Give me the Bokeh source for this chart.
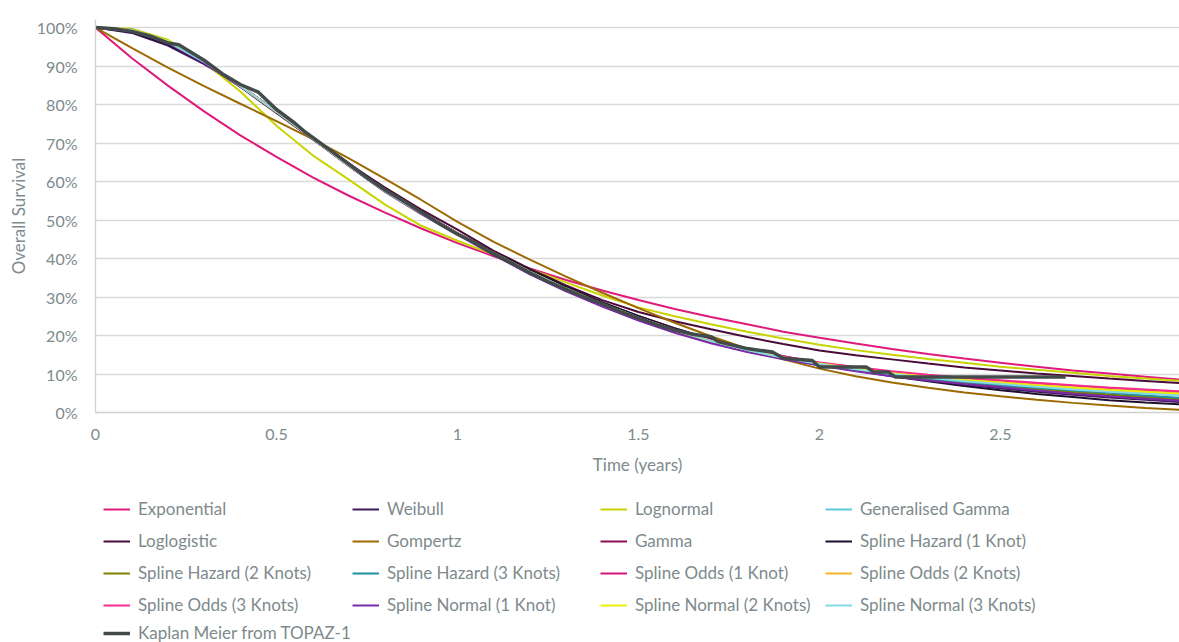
from bokeh.plotting import figure
from bokeh.layouts import column
from bokeh.models import Legend, LegendItem, FixedTicker, NumeralTickFormatter
from bokeh.embed import file_html
from bokeh.resources import INLINE

# ---------------- data ----------------
t = [0.0, 0.1, 0.2, 0.3, 0.4, 0.5, 0.6, 0.7, 0.8, 0.9, 1.0, 1.1, 1.2, 1.3, 1.4, 1.5,
     1.6, 1.7, 1.8, 1.9, 2.0, 2.1, 2.2, 2.3, 2.4, 2.5, 2.6, 2.7, 2.8, 2.9, 3.0]

exponential = [1.000, 0.921, 0.849, 0.782, 0.720, 0.664, 0.611, 0.563, 0.519, 0.478, 0.440,
               0.406, 0.374, 0.344, 0.317, 0.292, 0.269, 0.248, 0.229, 0.210, 0.194,
               0.179, 0.165, 0.152, 0.140, 0.129, 0.119, 0.109, 0.101, 0.093, 0.085]
weibull = [1.000, 0.986, 0.953, 0.905, 0.847, 0.783, 0.715, 0.647, 0.581, 0.522, 0.465,
           0.415, 0.368, 0.325, 0.286, 0.251, 0.219, 0.191, 0.166, 0.146, 0.128,
           0.111, 0.097, 0.084, 0.073, 0.063, 0.054, 0.046, 0.039, 0.033, 0.027]
lognormal = [1.000, 0.997, 0.968, 0.910, 0.834, 0.745, 0.668, 0.605, 0.540, 0.485, 0.446,
             0.410, 0.372, 0.338, 0.304, 0.273, 0.250, 0.229, 0.210, 0.192, 0.176,
             0.162, 0.150, 0.139, 0.129, 0.119, 0.111, 0.103, 0.095, 0.088, 0.082]
gen_gamma = [1.000, 0.995, 0.965, 0.912, 0.848, 0.781, 0.711, 0.641, 0.574, 0.517, 0.465,
             0.414, 0.366, 0.322, 0.282, 0.246, 0.214, 0.186, 0.162, 0.142, 0.126,
             0.113, 0.101, 0.091, 0.082, 0.075, 0.068, 0.061, 0.055, 0.050, 0.045]
loglogistic = [1.000, 0.993, 0.962, 0.910, 0.846, 0.778, 0.710, 0.645, 0.584, 0.527, 0.475,
               0.420, 0.373, 0.330, 0.292, 0.261, 0.237, 0.216, 0.196, 0.178, 0.161,
               0.149, 0.138, 0.127, 0.117, 0.109, 0.101, 0.095, 0.088, 0.082, 0.076]
gompertz = [1.000, 0.947, 0.896, 0.848, 0.802, 0.757, 0.710, 0.660, 0.607, 0.552, 0.495,
            0.443, 0.397, 0.353, 0.311, 0.271, 0.233, 0.198, 0.166, 0.138, 0.114,
            0.094, 0.078, 0.064, 0.052, 0.042, 0.033, 0.025, 0.018, 0.012, 0.007]
gamma = [1.000, 0.994, 0.964, 0.911, 0.848, 0.781, 0.711, 0.641, 0.575, 0.518, 0.466,
         0.416, 0.368, 0.324, 0.284, 0.248, 0.216, 0.188, 0.163, 0.143, 0.125,
         0.110, 0.097, 0.086, 0.076, 0.068, 0.060, 0.052, 0.045, 0.039, 0.033]
sh_1 = [1.000, 0.988, 0.957, 0.908, 0.848, 0.783, 0.714, 0.645, 0.578, 0.520, 0.466,
        0.416, 0.369, 0.326, 0.286, 0.250, 0.218, 0.190, 0.165, 0.144, 0.126,
        0.109, 0.094, 0.081, 0.069, 0.058, 0.048, 0.040, 0.032, 0.026, 0.021]
sh_2 = [1.000, 0.992, 0.962, 0.910, 0.848, 0.782, 0.712, 0.642, 0.575, 0.518, 0.465,
        0.414, 0.366, 0.322, 0.282, 0.246, 0.214, 0.186, 0.162, 0.142, 0.125,
        0.110, 0.098, 0.087, 0.077, 0.069, 0.061, 0.054, 0.047, 0.041, 0.035]
sh_3 = [1.000, 0.991, 0.961, 0.910, 0.849, 0.782, 0.712, 0.642, 0.575, 0.518, 0.465,
        0.414, 0.365, 0.321, 0.281, 0.245, 0.213, 0.185, 0.161, 0.141, 0.125,
        0.111, 0.099, 0.088, 0.079, 0.071, 0.064, 0.057, 0.051, 0.044, 0.038]
so_1 = [1.000, 0.993, 0.963, 0.911, 0.848, 0.781, 0.711, 0.641, 0.575, 0.518, 0.465,
        0.413, 0.364, 0.320, 0.280, 0.245, 0.214, 0.187, 0.164, 0.145, 0.129,
        0.116, 0.105, 0.096, 0.088, 0.082, 0.075, 0.069, 0.063, 0.058, 0.053]
so_2 = [1.000, 0.992, 0.962, 0.910, 0.848, 0.782, 0.712, 0.642, 0.575, 0.518, 0.465,
        0.413, 0.364, 0.320, 0.280, 0.245, 0.213, 0.186, 0.163, 0.144, 0.128,
        0.115, 0.103, 0.094, 0.086, 0.079, 0.072, 0.066, 0.060, 0.055, 0.050]
so_3 = [1.000, 0.993, 0.963, 0.911, 0.849, 0.782, 0.712, 0.642, 0.575, 0.518, 0.465,
        0.413, 0.365, 0.321, 0.281, 0.246, 0.215, 0.188, 0.165, 0.146, 0.130,
        0.118, 0.107, 0.098, 0.090, 0.084, 0.077, 0.071, 0.065, 0.060, 0.055]
sn_1 = [1.000, 0.991, 0.960, 0.908, 0.846, 0.780, 0.710, 0.640, 0.573, 0.515, 0.462,
        0.409, 0.359, 0.315, 0.275, 0.239, 0.207, 0.180, 0.157, 0.138, 0.122,
        0.107, 0.094, 0.083, 0.074, 0.066, 0.057, 0.049, 0.042, 0.036, 0.030]
sn_2 = [1.000, 0.994, 0.965, 0.912, 0.848, 0.781, 0.711, 0.641, 0.575, 0.518, 0.465,
        0.414, 0.366, 0.322, 0.282, 0.246, 0.214, 0.186, 0.163, 0.143, 0.127,
        0.114, 0.102, 0.092, 0.084, 0.077, 0.070, 0.064, 0.058, 0.053, 0.048]
sn_3 = [1.000, 0.993, 0.963, 0.911, 0.848, 0.782, 0.712, 0.642, 0.575, 0.518, 0.465,
        0.414, 0.366, 0.322, 0.282, 0.246, 0.214, 0.186, 0.162, 0.142, 0.126,
        0.112, 0.100, 0.090, 0.081, 0.074, 0.067, 0.060, 0.054, 0.049, 0.044]

km_t = [0.0, 0.05, 0.1, 0.15, 0.2, 0.23, 0.3, 0.35, 0.4, 0.45, 0.5, 0.55, 0.58, 0.65,
        0.7, 0.75, 0.8, 0.85, 0.9, 0.95, 1.0, 1.05, 1.1, 1.15, 1.2, 1.25, 1.3, 1.35,
        1.4, 1.45, 1.5, 1.55, 1.6, 1.65, 1.7, 1.72, 1.8, 1.87, 1.9, 1.98, 2.0, 2.13,
        2.15, 2.19, 2.21, 2.68]
km_s = [1.0, 0.997, 0.99, 0.978, 0.96, 0.955, 0.915, 0.88, 0.852, 0.832, 0.787, 0.752,
        0.728, 0.68, 0.645, 0.61, 0.578, 0.55, 0.52, 0.49, 0.463, 0.44, 0.412, 0.388,
        0.363, 0.34, 0.32, 0.3, 0.282, 0.262, 0.245, 0.228, 0.214, 0.203, 0.197, 0.184,
        0.166, 0.157, 0.141, 0.135, 0.118, 0.118, 0.105, 0.105, 0.092, 0.092]

series_names = ["Exponential", "Weibull", "Lognormal", "Generalised Gamma",
                "Loglogistic", "Gompertz", "Gamma", "Spline Hazard (1 Knot)",
                "Spline Hazard (2 Knots)", "Spline Hazard (3 Knots)", "Spline Odds (1 Knot)",
                "Spline Odds (2 Knots)", "Spline Odds (3 Knots)", "Spline Normal (1 Knot)",
                "Spline Normal (2 Knots)", "Spline Normal (3 Knots)"]
series_values = [exponential, weibull, lognormal, gen_gamma, loglogistic, gompertz, gamma,
                 sh_1, sh_2, sh_3, so_1, so_2, so_3, sn_1, sn_2, sn_3]
series_colors = ["#DF1A7B", "#3F1A5A", "#C8D400", "#5BC8DA", "#4A0B3A", "#9C6A00",
                 "#8B1050", "#1F0D2E", "#808000", "#1F8FA3", "#D4137F", "#F7B52C",
                 "#F62D8C", "#7A2BA8", "#E8F00A", "#86D9E4"]
km_name = "Kaplan Meier from TOPAZ-1"
km_color = "#424A4A"

x_ticks = [0, 0.5, 1, 1.5, 2, 2.5]
x_tick_labels = ["0", "0.5", "1", "1.5", "2", "2.5"]
y_ticks = [0, 0.1, 0.2, 0.3, 0.4, 0.5, 0.6, 0.7, 0.8, 0.9, 1.0]

# ---------------- main figure ----------------
FONT = "Lato"
TXT = "#7E8A8C"
W = 1179

p = figure(width=W, height=480, output_backend="svg", toolbar_location=None,
           x_range=(0, 2.9945), y_range=(0, 1.0208),
           min_border_left=95, min_border_right=0, min_border_top=19,
           min_border_bottom=68)
p.outline_line_color = None
p.background_fill_color = "white"
p.border_fill_color = "white"

p.xgrid.visible = False
p.ygrid.grid_line_color = "#D9D9D9"
p.ygrid.grid_line_width = 1.3

p.yaxis.ticker = FixedTicker(ticks=y_ticks)
p.yaxis.formatter = NumeralTickFormatter(format="0%")
p.xaxis.ticker = FixedTicker(ticks=x_ticks)
p.xaxis.major_label_overrides = dict(zip(x_ticks, x_tick_labels))

for ax in (p.xaxis[0], p.yaxis[0]):
    ax.axis_line_color = "#D0D0D0"
    ax.axis_line_width = 1.3
    ax.major_tick_line_color = None
    ax.minor_tick_line_color = None
    ax.major_tick_out = 0
    ax.major_tick_in = 0
    ax.major_label_text_font = FONT
    ax.major_label_text_font_size = "16px"
    ax.major_label_text_color = TXT
    ax.axis_label_text_font = FONT
    ax.axis_label_text_font_size = "17px"
    ax.axis_label_text_color = TXT
    ax.axis_label_text_font_style = "normal"

p.yaxis.axis_label = "Overall Survival"
p.yaxis.major_label_standoff = 18
p.yaxis.axis_label_standoff = 5
p.xaxis.axis_label = "Time (years)"
p.xaxis.major_label_standoff = 16
p.xaxis.axis_label_standoff = 11

for name, vals, col in zip(series_names, series_values, series_colors):
    p.line(t, vals, line_color=col, line_width=2)
p.line(km_t, km_s, line_color=km_color, line_width=3.5, line_join="round")

# ---------------- legend figure (4 columns, row-major as in the reference) ----------------
# The same series are drawn here but outside the visible y-range, only to feed the legend.
LH = 162
lf = figure(width=W, height=LH, output_backend="svg", toolbar_location=None,
            x_range=(0, 3), y_range=(2, 3), x_axis_type=None, y_axis_type=None,
            min_border_left=0, min_border_right=0, min_border_top=0, min_border_bottom=0)
lf.outline_line_color = None
lf.xgrid.visible = False
lf.ygrid.visible = False

legend_renderers = []
for name, vals, col in zip(series_names, series_values, series_colors):
    legend_renderers.append((name, lf.line(t, vals, line_color=col, line_width=2)))
km_dummy = lf.line(km_t, km_s, line_color=km_color, line_width=3.5)

legend_style = dict(glyph_width=27, glyph_height=20, label_height=20, spacing=11,
                    padding=0, margin=0, label_standoff=8,
                    border_line_color=None, background_fill_alpha=0,
                    label_text_font=FONT, label_text_font_size="17px",
                    label_text_color=TXT)

# column start positions (page x) minus the frame offset observed in the layout
FRAME_OFF = 95
col_x = [103 - FRAME_OFF, 352 - FRAME_OFF, 600 - FRAME_OFF, 825 - FRAME_OFF]
for c in range(4):
    items = [LegendItem(label=legend_renderers[row * 4 + c][0],
                        renderers=[legend_renderers[row * 4 + c][1]]) for row in range(4)]
    lf.add_layout(Legend(items=items, location=(col_x[c], 27), **legend_style), "center")

lf.add_layout(Legend(items=[LegendItem(label=km_name, renderers=[km_dummy])],
                     location=(col_x[0], -1), **legend_style), "center")

layout = column(p, lf, spacing=0)
open("out.html", "w").write(file_html(layout, INLINE))
